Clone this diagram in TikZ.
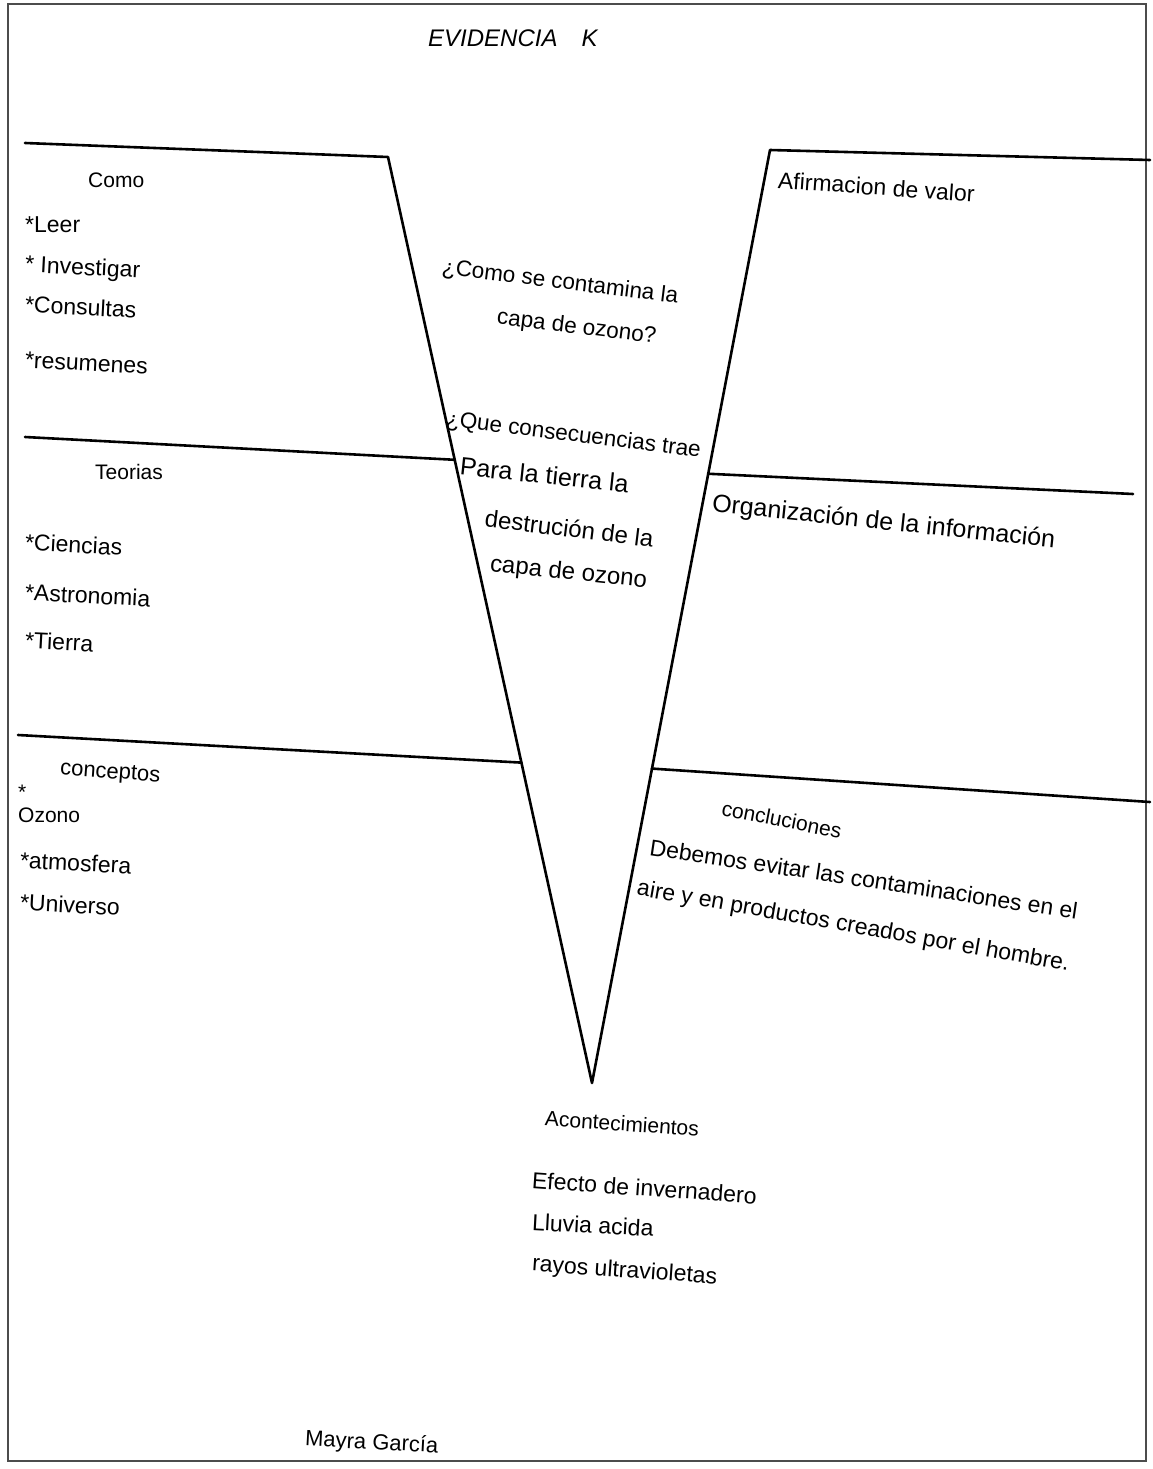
\documentclass[tikz,border=0pt]{standalone}
\usepackage{fontspec}
\setmainfont{Liberation Sans}
\usetikzlibrary{calc}
\tikzset{
  ink/.style={line width=2.6pt, black, line cap=round, line join=round},
  frame/.style={line width=1.6pt, black!70},
  hw/.style={font=\fontsize{21}{25}\selectfont, inner sep=0pt, anchor=west},
  hwb/.style={font=\fontsize{23}{27}\selectfont, inner sep=0pt, anchor=west},
  hwc/.style={font=\fontsize{22.5}{27}\selectfont, inner sep=0pt, anchor=west},
}
\begin{document}
\begin{tikzpicture}[x=1pt,y=-1pt]
\useasboundingbox[fill=white] (0,0) rectangle (1152,1469);
\draw[frame] (8,4) rectangle (1146,1461);

% V structure
\coordinate (tl0) at (25,143);
\coordinate (tl1) at (388,157);
\coordinate (tip) at (592,1083);
\coordinate (tr1) at (770,150);
\coordinate (tr0) at (1150,160);
\coordinate (ml1) at ($(tl1)!0.327!(tip)$);
\coordinate (ll1) at ($(tl1)!0.654!(tip)$);
\coordinate (mr1) at ($(tr1)!0.347!(tip)$);
\coordinate (lr1) at ($(tr1)!0.663!(tip)$);
\coordinate (ml0) at (25,437);
\coordinate (ll0) at (18,735);
\coordinate (mr0) at (1133,494);
\coordinate (lr0) at (1150,802);

\draw[ink] (tl0) -- (tl1) -- (tip) -- (tr1) -- (tr0);
\draw[ink] (ml0) -- (ml1);
\draw[ink] (ll0) -- (ll1);
\draw[ink] (mr1) -- (mr0);
\draw[ink] (lr1) -- (lr0);

% title
\node[hw, font=\fontsize{24}{28}\selectfont\itshape] (title) at (428,38) {EVIDENCIA\quad K};

% left top
\node[hw] (como) at (88,180) {Como};
\node[hwb] (leer) at (25,225) {*Leer};
\node[hwb, rotate=-3] (inv) at (25,266) {* Investigar};
\node[hwb, rotate=-3] (cons) at (25,304) {*Consultas};
\node[hwb, rotate=-3] (res) at (25,360) {*resumenes};

% left middle
\node[hw] (teo) at (95,472) {Teorias};
\node[hwb, rotate=-3] (cie) at (25,542) {*Ciencias};
\node[hwb, rotate=-3] (ast) at (25,592) {*Astronomia};
\node[hwb, rotate=-3] (tie) at (25,640) {*Tierra};

% left bottom
\node[hw, rotate=-4, font=\fontsize{22}{26}\selectfont] (conc) at (60,770) {conceptos};
\node[hw] (ast0) at (18,792) {*};
\node[hw] (ozo) at (18,815) {Ozono};
\node[hwb, rotate=-3] (atm) at (20,860) {*atmosfera};
\node[hwb, rotate=-3] (uni) at (20,902) {*Universo};

% center question
\node[hwc, rotate=-7] (q1) at (442,268) {¿Como se contamina la};
\node[hwc, rotate=-7] (q2) at (497,318) {capa de ozono?};
\node[hwc, rotate=-7] (q3) at (446,420) {¿Que consecuencias trae};
\node[hwc, rotate=-6, font=\fontsize{25}{29}\selectfont] (q4) at (460,466) {Para la tierra la};
\node[hwc, rotate=-7, font=\fontsize{24}{28}\selectfont] (q5) at (485,518) {destrución de la};
\node[hwc, rotate=-6, font=\fontsize{24}{28}\selectfont] (q6) at (490,565) {capa de ozono};

% right
\node[hw, rotate=-4, font=\fontsize{23}{27}\selectfont] (afi) at (778,180) {Afirmacion de valor};
\node[hw, rotate=-6, font=\fontsize{25}{29}\selectfont] (org) at (712,505) {Organización de la información};
\node[hw, rotate=-11] (ccl) at (722,808) {concluciones};
\node[hwb, rotate=-8.5] (d1) at (650,847) {Debemos evitar las contaminaciones en el};
\node[hwb, rotate=-10] (d2) at (637,889) {aire y en productos creados por el hombre.};

% bottom
\node[hw, rotate=-4] (acon) at (545,1118) {Acontecimientos};
\node[hwb, rotate=-4] (e1) at (532,1180) {Efecto de invernadero};
\node[hwb, rotate=-3] (e2) at (532,1222) {Lluvia acida};
\node[hwb, rotate=-4] (e3) at (532,1265) {rayos ultravioletas};

\node[hw, rotate=-3, font=\fontsize{22}{26}\selectfont] (firma) at (305,1440) {Mayra García};
\end{tikzpicture}
\end{document}
